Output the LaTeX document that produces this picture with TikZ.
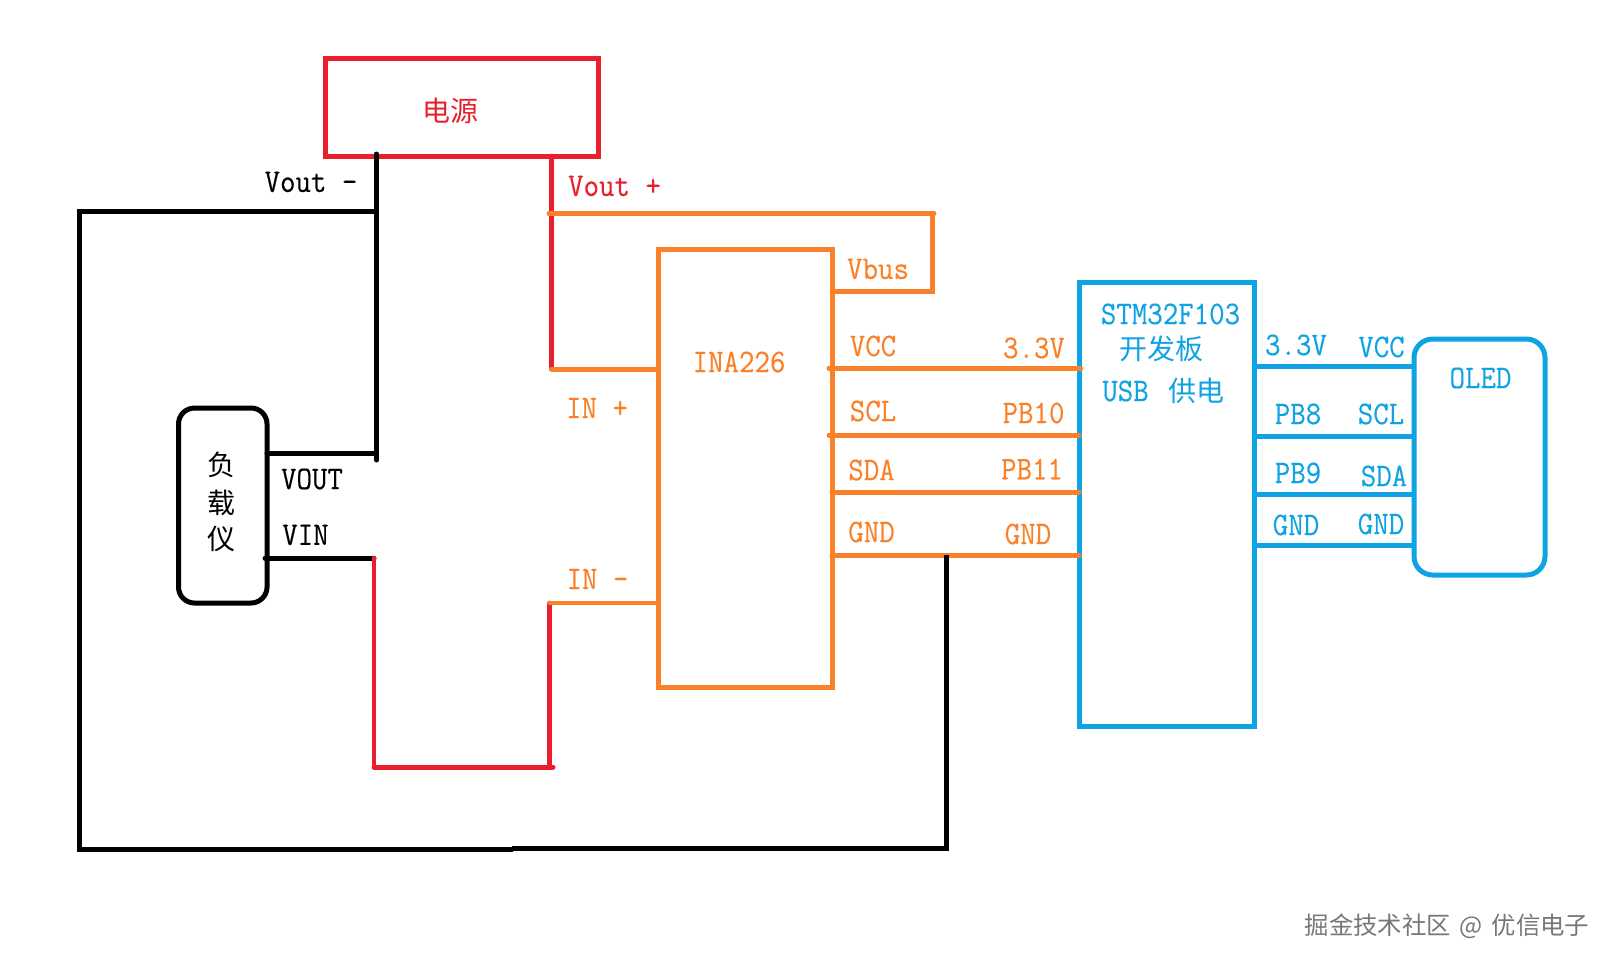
\documentclass[tikz,border=0pt]{standalone}
\usepackage{fontspec}
\setmonofont{Latin Modern Mono}[FakeStretch=0.91,FakeBold=0.3]
\newfontfamily\cjk{Noto Sans CJK SC}
\definecolor{cred}{HTML}{E8202E}
\definecolor{corange}{HTML}{FA8029}
\definecolor{cblue}{HTML}{0FA3E3}
\definecolor{cmark}{HTML}{777777}
\begin{document}
\begin{tikzpicture}[x=0.75pt,y=-0.75pt,
  wire/.style={line width=3.75pt,line cap=round,line join=miter},
  thinwire/.style={line width=3.5pt,line cap=round,line join=miter},
  blackwire/.style={wire,black},
  redwire/.style={thinwire,cred},
  orangewire/.style={wire,corange},
  bluewire/.style={wire,cblue,line cap=butt},
  box/.style={draw,rectangle,line width=3.75pt,inner sep=0pt,outer sep=0pt,anchor=north west},
  lbl/.style={font=\fontsize{24.75pt}{26pt}\selectfont\ttfamily,inner sep=0pt,anchor=center},
  han/.style={font=\fontsize{21pt}{24pt}\selectfont\cjk,inner sep=0pt,anchor=center}]
\useasboundingbox (0,0) rectangle (1615,965);

% boxes
\node[box,cred,minimum width=204.75pt,minimum height=73.5pt] (psu) at (325,58) {};
\node[box,corange,minimum width=130pt,minimum height=328.5pt] (ina) at (658.7,249) {};
\node[box,cblue,minimum width=131.25pt,minimum height=333pt] (stm) at (1079,282) {};
\node[box,black,rounded corners=12pt,minimum width=66.4pt,minimum height=146.25pt] (load) at (178.5,408) {};
\node[box,cblue,rounded corners=14pt,minimum width=98.25pt,minimum height=177pt] (oled) at (1414,339) {};

% free ends of the wires
\coordinate (bT) at (376.5,154);
\coordinate (bJ) at (376.5,211);
\coordinate (bV) at (376.5,460);
\coordinate (bL) at (79,211);
\coordinate (bBL) at (79,849);
\coordinate (bM) at (512,849);
\coordinate (bM2) at (512,848);
\coordinate (bBR) at (946.6,848);
\coordinate (gndTap) at (946.6,555);
\coordinate (vout) at (267,453);
\coordinate (vin) at (265,558);
\coordinate (r1) at (374,558);
\coordinate (r2) at (374,767);
\coordinate (r3) at (553,767);
\coordinate (r4) at (549.5,767);
\coordinate (r5) at (549.5,603);
\coordinate (vpT) at (551.5,156);
\coordinate (vpM) at (551.5,369);
\coordinate (vbA) at (549,213.5);
\coordinate (vbB) at (934,213.5);
\coordinate (vbC) at (932.5,213.5);
\coordinate (vbD) at (932.5,291);

% black network
\draw[blackwire] (bT) -- (bV);
\draw[blackwire] (bJ) -- (bL) -- (bBL) -- (bM);
\draw[blackwire] (vout) -- (vout -| bV);
\draw[blackwire] (vin) -- (r1);

% red wires
\draw[redwire] (r1) -- (r2);
\draw[redwire,line width=3.75pt] (r2) -- (r3);
\draw[redwire] (r4) -- (r5);
\draw[redwire] (vpT) -- (vpM);

% orange wires
\draw[orangewire] (vpM) -- (vpM -| ina.west);
\draw[orangewire,line width=3.2pt] (r5) -- (r5 -| ina.west);
\draw[orangewire] (vbA) -- (vbB);
\draw[orangewire] (vbC) -- (vbD) -- (vbD -| ina.east);
\coordinate (oVccL) at (829,368);
\coordinate (oVccR) at (1080.6,368);
\coordinate (oSclL) at (829,435);
\coordinate (oSdaL) at (832,492);
\coordinate (oGndL) at (832,555);
\draw[orangewire] (oVccL) -- (oVccR);
\draw[orangewire] (oSclL) -- (oSclL -| stm.west);
\draw[orangewire] (oSdaL) -- (oSdaL -| stm.west);
\draw[orangewire] (oGndL) -- (oGndL -| stm.west);
\draw[blackwire,line cap=butt,line join=miter] (bM2) -- (bBR) -- (gndTap);

% blue wires
\coordinate (bl1) at (1254,366);
\coordinate (bl2) at (1254,436);
\coordinate (bl3) at (1254,494);
\coordinate (bl4) at (1254,545);
\draw[bluewire] (bl1) -- (bl1 -| oled.west);
\draw[bluewire] (bl2) -- (bl2 -| oled.west);
\draw[bluewire] (bl3) -- (bl3 -| oled.west);
\draw[bluewire] (bl4) -- (bl4 -| oled.west);

% labels
\node[han,cred] (tPsu) at (450,111) {电源};
\node[lbl,black] (tVm) at (311,182) {Vout \textendash};
\node[lbl,cred] (tVp) at (614.5,186) {Vout +};
\node[lbl,corange] (tIna) at (739,362) {INA226};
\node[lbl,corange] (tInP) at (597,408) {IN +};
\node[lbl,corange] (tInM) at (597.5,579) {IN \textendash};
\node[han,black] (tL1) at (221,465) {负};
\node[han,black] (tL2) at (221,503) {载};
\node[han,black] (tL3) at (221,539) {仪};
\node[lbl,black] (tVout) at (312,479) {VOUT};
\node[lbl,black] (tVin) at (305.5,535) {VIN};
\node[lbl,corange] (tVbus) at (878,269) {Vbus};
\node[lbl,corange] (tVcc) at (873,346) {VCC};
\node[lbl,corange] (t33a) at (1034,348) {3.3V};
\node[lbl,corange] (tScl) at (873,411) {SCL};
\node[lbl,corange] (tPb10) at (1033.5,413) {PB10};
\node[lbl,corange] (tSda) at (871.5,470) {SDA};
\node[lbl,corange] (tPb11) at (1032,469) {PB11};
\node[lbl,corange] (tGndA) at (871.5,532) {GND};
\node[lbl,corange] (tGndB) at (1028,534) {GND};
\node[lbl,cblue] (tStm) at (1170.5,314) {STM32F103};
\node[han,cblue] (tKf) at (1161,349) {开发板};
\node[lbl,cblue] (tUsb) at (1125.5,391) {USB};
\node[han,cblue] (tGd) at (1196.5,391) {供电};
\node[lbl,cblue] (t33b) at (1296,345) {3.3V};
\node[lbl,cblue] (tVccB) at (1381.5,347) {VCC};
\node[lbl,cblue] (tOled) at (1480.5,378) {OLED};
\node[lbl,cblue] (tPb8) at (1298,414) {PB8};
\node[lbl,cblue] (tSclB) at (1381,414) {SCL};
\node[lbl,cblue] (tPb9) at (1298,473) {PB9};
\node[lbl,cblue] (tSdaB) at (1384,476) {SDA};
\node[lbl,cblue] (tGndC) at (1296,525) {GND};
\node[lbl,cblue] (tGndD) at (1381,524) {GND};
\node[cmark,font=\fontsize{18.3pt}{20pt}\selectfont\cjk,inner sep=0pt,anchor=center] (tMark) at (1447,926) {掘金技术社区\hspace{2.5pt} @ \hspace{2.5pt}优信电子};
\end{tikzpicture}
\end{document}
